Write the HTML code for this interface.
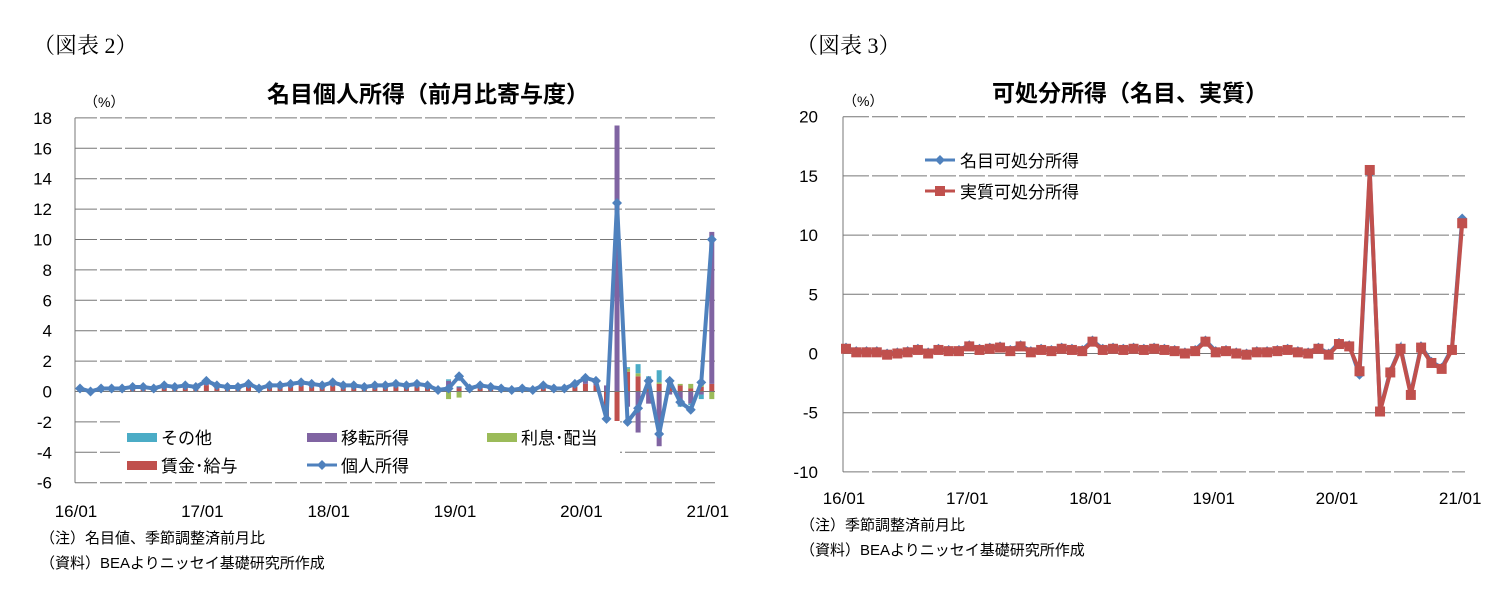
<!DOCTYPE html>
<html><head><meta charset="utf-8"><style>
body{margin:0;background:#fff;width:1509px;height:609px;overflow:hidden}
svg text{font-family:"Liberation Sans","Noto Sans CJK JP",sans-serif;fill:#000}
</style></head><body>
<svg id="s" width="1509" height="609" xmlns="http://www.w3.org/2000/svg"></svg>
<script>
const S=document.getElementById('s');let h='';
function t(x,y,s,sz,a,extra){h+=`<text x="${x}" y="${y}" font-size="${sz}" text-anchor="${a||'start'}" ${extra||''}>${s}</text>`;}
h+=`<text x="33" y="53" font-size="22" style="font-family:'Liberation Serif','Noto Serif CJK SC',serif">（図表 2）</text>`;
h+=`<text x="796" y="53" font-size="22" style="font-family:'Liberation Serif','Noto Serif CJK SC',serif">（図表 3）</text>`;
t(428,102,'名目個人所得（前月比寄与度）',23,'middle','font-weight="bold"');
t(1130,101,'可処分所得（名目、実質）',23,'middle','font-weight="bold"');
t(84,107,'（%）',14);t(843,106,'（%）',14);
// LEFT chart
const LX0=75,LX1=715,lx=i=>80+i*10.53,ly=v=>391.5-v*15.2;
for(let v=-6;v<=18;v+=2){const y=ly(v);if(v!==0)h+=`<line x1="${LX0}" x2="${LX1}" y1="${y}" y2="${y}" stroke="#777" stroke-width="1" stroke-dasharray="22,3"/>`;t(52,y+6,v,17,'end');}
h+=`<line x1="${LX0}" x2="${LX0}" y1="${ly(18)}" y2="${ly(-6)}" stroke="#777"/>`;
['16/01','17/01','18/01','19/01','20/01','21/01'].forEach((s,k)=>t(lx(k*12)-4,517,s,17,'middle'));
const P=[0.2,0.0,0.2,0.2,0.2,0.3,0.3,0.2,0.4,0.3,0.4,0.3,
0.7,0.4,0.3,0.3,0.5,0.2,0.4,0.4,0.5,0.6,0.5,0.4,
0.6,0.4,0.4,0.3,0.4,0.4,0.5,0.4,0.5,0.4,0.1,0.2,
1.0,0.2,0.4,0.3,0.2,0.1,0.2,0.1,0.4,0.2,0.2,0.5,
0.9,0.7,-1.8,12.4,-2.0,-1.1,0.7,-2.8,0.7,-0.7,-1.2,0.6,10.0];
const bars={};
for(let i=0;i<48;i++)bars[i]=[P[i]*0.6,P[i]*0.2,P[i]*0.1,0.05];
bars[35]=[0.1,0.6,-0.5,0.1];bars[36]=[0.2,0.1,-0.4,0.05];
Object.assign(bars,{48:[0.5,0.4,0.1,0],49:[0.4,0.2,0.1,0],50:[-2.1,0.4,-0.1,0],51:[-5.4,17.5,0,0],52:[1.3,-1.0,0.2,0.1],53:[1.0,-2.7,0.2,0.6],54:[0.8,-0.8,0,0.2],55:[0.5,-3.6,0.1,0.8],56:[0.6,-0.2,0.1,0.1],57:[0.4,-0.9,0.1,-0.1],58:[0.2,-0.8,0.3,-0.1],59:[0.3,-0.2,0.2,-0.3],60:[0.5,10.0,-0.5,0]});
const cols=['#c0504d','#8064a2','#9bbb59','#4bacc6'];
for(let i=0;i<=60;i++){const b=bars[i];if(!b)continue;let pos=0,neg=0;b.forEach((v,k)=>{let y0,y1;if(v>=0){y0=ly(pos+v);y1=ly(pos);pos+=v}else{y0=ly(neg);y1=ly(neg+v);neg+=v}h+=`<rect x="${lx(i)-2.5}" y="${y0}" width="5" height="${Math.max(0,y1-y0)}" fill="${cols[k]}"/>`;});}
h+=`<line x1="${LX0}" x2="${LX1}" y1="${ly(0)}" y2="${ly(0)}" stroke="#777"/>`;
h+=`<rect x="120" y="421" width="500" height="58" fill="#fff"/>`;
h+=`<polyline fill="none" stroke="#4f81bd" stroke-width="4" stroke-linejoin="round" points="${P.map((v,i)=>lx(i)+','+ly(v)).join(' ')}"/>`;
P.forEach((v,i)=>{const x=lx(i),y=ly(v);h+=`<polygon points="${x},${y-5} ${x+5},${y} ${x},${y+5} ${x-5},${y}" fill="#4f81bd"/>`;});
[[127,437,'#4bacc6','その他'],[307,437,'#8064a2','移転所得'],[487,437,'#9bbb59','利息･配当'],[127,465,'#c0504d','賃金･給与']].forEach(a=>{h+=`<rect x="${a[0]}" y="${a[1]-4}" width="30" height="9" fill="${a[2]}"/>`;t(a[0]+34,a[1]+7,a[3],17);});
h+=`<line x1="307" x2="337" y1="465" y2="465" stroke="#4f81bd" stroke-width="3"/><polygon points="322,460 327,465 322,470 317,465" fill="#4f81bd"/>`;t(341,472,'個人所得',17);
t(40,543,'（注）名目値、季節調整済前月比',15);t(40,568,'（資料）BEAよりニッセイ基礎研究所作成',15);
// RIGHT chart
const RX0=843,RX1=1465,rx=i=>846+i*10.27,ry=v=>353.5-v*11.84;
for(let v=-10;v<=20;v+=5){const y=ry(v);if(v!==0)h+=`<line x1="${RX0}" x2="${RX1}" y1="${y}" y2="${y}" stroke="#777" stroke-dasharray="26,3"/>`;t(818,y+6,v,17,'end');}
h+=`<line x1="${RX0}" x2="${RX0}" y1="${ry(20)}" y2="${ry(-10)}" stroke="#777"/><line x1="${RX0}" x2="${RX1}" y1="${ry(0)}" y2="${ry(0)}" stroke="#777"/>`;
['16/01','17/01','18/01','19/01','20/01','21/01'].forEach((s,k)=>t(rx(k*12)-2,504,s,17,'middle'));
const R2=[0.4,0.1,0.1,0.1,-0.1,0.0,0.1,0.3,0.0,0.3,0.2,0.2,
0.6,0.3,0.4,0.5,0.2,0.6,0.1,0.3,0.2,0.4,0.3,0.2,
1.0,0.3,0.4,0.3,0.4,0.3,0.4,0.3,0.2,0.0,0.2,1.0,
0.1,0.2,0.0,-0.1,0.1,0.1,0.2,0.3,0.1,0.0,0.4,-0.1,
0.8,0.6,-1.5,15.5,-4.9,-1.6,0.4,-3.5,0.5,-0.8,-1.3,0.3,11.0];
const N=R2.map((v,i)=>i==51?15.2:i==60?11.4:i==50?-1.8:v+0.1);
h+=`<polyline fill="none" stroke="#4f81bd" stroke-width="4" points="${N.map((v,i)=>rx(i)+','+ry(v)).join(' ')}"/>`;
N.forEach((v,i)=>{const x=rx(i),y=ry(v);h+=`<polygon points="${x},${y-5} ${x+5},${y} ${x},${y+5} ${x-5},${y}" fill="#4f81bd"/>`;});
h+=`<polyline fill="none" stroke="#c0504d" stroke-width="4" stroke-linejoin="round" points="${R2.map((v,i)=>rx(i)+','+ry(v)).join(' ')}"/>`;
R2.forEach((v,i)=>{h+=`<rect x="${rx(i)-5}" y="${ry(v)-5}" width="10" height="10" fill="#c0504d"/>`;});
h+=`<line x1="925" x2="955" y1="160" y2="160" stroke="#4f81bd" stroke-width="3"/><polygon points="940,155 945,160 940,165 935,160" fill="#4f81bd"/>`;t(960,167,'名目可処分所得',17);
h+=`<line x1="925" x2="955" y1="191" y2="191" stroke="#c0504d" stroke-width="3"/><rect x="935" y="186" width="10" height="10" fill="#c0504d"/>`;t(960,198,'実質可処分所得',17);
t(800,530,'（注）季節調整済前月比',15);t(800,555,'（資料）BEAよりニッセイ基礎研究所作成',15);
S.innerHTML=h;
</script>
</body></html>
